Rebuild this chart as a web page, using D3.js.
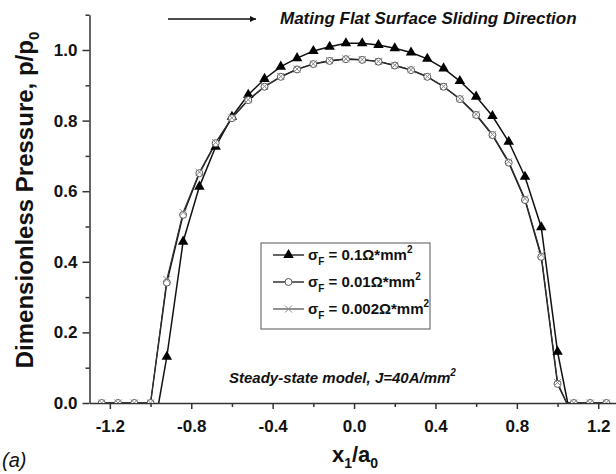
<!DOCTYPE html>
<html>
<head>
<meta charset="utf-8">
<script src="https://cdn.jsdelivr.net/npm/d3@7"></script>
<style>
  body { margin: 0; background: #fff; }
  svg { display: block; }
  text { font-family: Arial, "Liberation Sans", sans-serif; fill: #111; }
</style>
</head>
<body>
<svg id="viz" width="616" height="474"></svg>
<script>
// ---- data ----
const xGrid = [-1.24,-1.16,-1.08,-1.00,-0.92,-0.84,-0.76,-0.68,-0.60,-0.52,-0.44,-0.36,-0.28,-0.20,-0.12,-0.04,
                0.04,0.12,0.20,0.28,0.36,0.44,0.52,0.60,0.68,0.76,0.84,0.92,1.00,1.08,1.16,1.24];

// sigma_F = 0.1 (triangles), only inside the contact
const pTri = [null,null,null,null,0.131,0.457,0.613,0.726,0.811,0.873,0.918,0.953,0.977,0.997,1.009,1.019,
              1.019,1.014,1.005,0.993,0.975,0.948,0.912,0.868,0.813,0.740,0.641,0.498,0.145,null,null,null];
// sigma_F = 0.01 (open circles)
const pCirc = [0,0,0,0,0.341,0.533,0.651,0.736,0.807,0.858,0.896,0.924,0.945,0.960,0.969,0.974,
               0.972,0.967,0.956,0.943,0.924,0.896,0.861,0.816,0.759,0.681,0.575,0.414,0.054,0,0,0];
// sigma_F = 0.002 (crosses)
const pCross = [0,0,0,0,0.350,0.540,0.654,0.738,0.808,0.859,0.897,0.925,0.946,0.961,0.970,0.975,
                0.973,0.968,0.957,0.944,0.925,0.897,0.862,0.818,0.761,0.684,0.579,0.420,0.058,0,0,0];

// where each curve drops to zero (contact edges)
const triEdges   = [-0.96, 1.05];
const circEdges  = [-1.00, 1.045];
const crossEdges = [-1.00, 1.045];

const xMajor = [-1.2,-0.8,-0.4,0.0,0.4,0.8,1.2];
const xMinor = [-1.0,-0.6,-0.2,0.2,0.6,1.0];
const yMajor = [0,0.2,0.4,0.6,0.8,1.0];
const yMinor = [0.1,0.3,0.5,0.7,0.9,1.1];

const legendLabels = ["0.1", "0.01", "0.002"];

// ---- layout ----
const svg = d3.select("#viz");
const x = d3.scaleLinear().domain([-1.3, 1.3]).range([89.5, 618.6]);
const y = d3.scaleLinear().domain([0, 1.1]).range([403, 14.7]);
const fmt = d => d.toFixed(1);

// clip: everything above the x axis
svg.append("defs").append("clipPath").attr("id", "plotclip")
  .append("rect").attr("x", 90).attr("y", 0).attr("width", 530).attr("height", 403);

// axes
svg.append("g").attr("transform", "translate(0,403)")
  .call(d3.axisBottom(x).tickValues(xMajor).tickFormat(fmt).tickSize(6).tickPadding(11).tickSizeOuter(0));
svg.append("g").attr("transform", "translate(0,403)")
  .call(d3.axisBottom(x).tickValues(xMinor).tickFormat("").tickSize(4).tickSizeOuter(0))
  .select(".domain").remove();
svg.append("g").attr("transform", "translate(89.5,0)")
  .call(d3.axisLeft(y).tickValues(yMajor).tickFormat(fmt).tickSize(7).tickPadding(5).tickSizeOuter(0));
svg.append("g").attr("transform", "translate(89.5,0)")
  .call(d3.axisLeft(y).tickValues(yMinor).tickFormat("").tickSize(4).tickSizeOuter(0))
  .select(".domain").remove();

svg.selectAll(".domain").attr("stroke", "#333").attr("stroke-width", 1.5);
svg.selectAll(".tick line").attr("stroke", "#333").attr("stroke-width", 1.5);
svg.selectAll(".tick text").attr("font-size", 17).attr("font-weight", "bold")
  .attr("font-family", "Arial, 'Liberation Sans', sans-serif").attr("fill", "#111");

// ---- series ----
function points(vals, edges) {
  const pts = [];
  xGrid.forEach((xv, i) => { if (vals[i] != null) pts.push([xv, vals[i]]); });
  edges.forEach(e => { if (!pts.some(p => Math.abs(p[0] - e) < 1e-9)) pts.push([e, 0]); });
  return pts.sort((a, b) => a[0] - b[0]);
}
const line = d3.line().x(d => x(d[0])).y(d => y(d[1]));

const plot = svg.append("g").attr("clip-path", "url(#plotclip)");

const triPts = xGrid.map((xv, i) => [xv, pTri[i]]).filter(d => d[1] != null);
const circPts = xGrid.map((xv, i) => [xv, pCirc[i]]);
const crossPts = xGrid.map((xv, i) => [xv, pCross[i]]);

plot.append("path").datum(points(pTri, triEdges)).attr("d", line)
  .attr("fill", "none").attr("stroke", "#111").attr("stroke-width", 1.5);
plot.append("path").datum(points(pCirc, circEdges)).attr("d", line)
  .attr("fill", "none").attr("stroke", "#111").attr("stroke-width", 1.4);
plot.append("path").datum(points(pCross, crossEdges)).attr("d", line)
  .attr("fill", "none").attr("stroke", "#333").attr("stroke-width", 1.1);

const triSym = d3.symbol(d3.symbolTriangle).size(48);
const crossPath = "M-3.5,-3.5L3.5,3.5M-3.5,3.5L3.5,-3.5";

plot.selectAll("path.tri").data(triPts).join("path").attr("class", "tri")
  .attr("transform", d => `translate(${x(d[0])},${y(d[1])})`)
  .attr("d", triSym).attr("fill", "#000");
plot.selectAll("circle.circ").data(circPts).join("circle").attr("class", "circ")
  .attr("cx", d => x(d[0])).attr("cy", d => y(d[1])).attr("r", 3.5)
  .attr("fill", "#fff").attr("stroke", "#555").attr("stroke-width", 1);
plot.selectAll("path.cross").data(crossPts).join("path").attr("class", "cross")
  .attr("transform", d => `translate(${x(d[0])},${y(d[1])})`)
  .attr("d", crossPath).attr("fill", "none").attr("stroke", "#888").attr("stroke-width", 1);

// ---- legend ----
const lg = svg.append("g");
lg.append("rect").attr("x", 261).attr("y", 243).attr("width", 169).attr("height", 86)
  .attr("fill", "#fff").attr("stroke", "#555").attr("stroke-width", 1);
legendLabels.forEach((lab, i) => {
  const ry = 255 + i * 27;
  lg.append("line").attr("x1", 273).attr("x2", 304).attr("y1", ry).attr("y2", ry)
    .attr("stroke", i === 2 ? "#555" : "#111").attr("stroke-width", 1.3);
  if (i === 0) lg.append("path").attr("transform", `translate(288.5,${ry})`).attr("d", triSym).attr("fill", "#000");
  if (i === 1) lg.append("circle").attr("cx", 288.5).attr("cy", ry).attr("r", 3.5)
    .attr("fill", "#fff").attr("stroke", "#555");
  if (i === 2) lg.append("path").attr("transform", `translate(288.5,${ry})`).attr("d", crossPath)
    .attr("fill", "none").attr("stroke", "#888");
  const t = lg.append("text").attr("x", 308).attr("y", ry + 5)
    .attr("font-size", 15).attr("font-weight", "bold");
  t.append("tspan").text("σ");
  t.append("tspan").attr("font-size", 10).attr("dy", 5).text("F");
  t.append("tspan").attr("dy", -5).text(` = ${lab}Ω*mm`);
  t.append("tspan").attr("font-size", 10).attr("dy", -7).text("2");
});

// ---- annotations ----
svg.append("defs").append("marker").attr("id", "ah").attr("viewBox", "0 0 10 10")
  .attr("refX", 10).attr("refY", 5).attr("markerWidth", 8).attr("markerHeight", 6)
  .attr("markerUnits", "userSpaceOnUse").attr("orient", "auto")
  .append("path").attr("d", "M0,0L10,5L0,10z").attr("fill", "#111");
svg.append("line").attr("x1", 168).attr("x2", 256).attr("y1", 19).attr("y2", 19)
  .attr("stroke", "#111").attr("stroke-width", 1.3).attr("marker-end", "url(#ah)");
svg.append("text").attr("x", 280).attr("y", 24).attr("font-size", 17)
  .attr("font-weight", "bold").attr("font-style", "italic")
  .text("Mating Flat Surface Sliding Direction");

const st = svg.append("text").attr("x", 229).attr("y", 383).attr("font-size", 15)
  .attr("font-weight", "bold").attr("font-style", "italic");
st.append("tspan").text("Steady-state model, J=40A/mm");
st.append("tspan").attr("font-size", 10).attr("dy", -7).text("2");

// axis titles
const yt = svg.append("text").attr("transform", "translate(33,200) rotate(-90)")
  .attr("text-anchor", "middle").attr("font-size", 24).attr("font-weight", "bold");
yt.append("tspan").text("Dimensionless Pressure, p/p");
yt.append("tspan").attr("font-size", 15).attr("dy", 6).text("0");

const xt = svg.append("text").attr("x", 355).attr("y", 462).attr("text-anchor", "middle")
  .attr("font-size", 22).attr("font-weight", "bold");
xt.append("tspan").text("x");
xt.append("tspan").attr("font-size", 14).attr("dy", 6).text("1");
xt.append("tspan").attr("dy", -6).text("/a");
xt.append("tspan").attr("font-size", 14).attr("dy", 6).text("0");

svg.append("text").attr("x", 2).attr("y", 467).attr("font-size", 20)
  .attr("font-style", "italic").text("(a)");
</script>
</body>
</html>
